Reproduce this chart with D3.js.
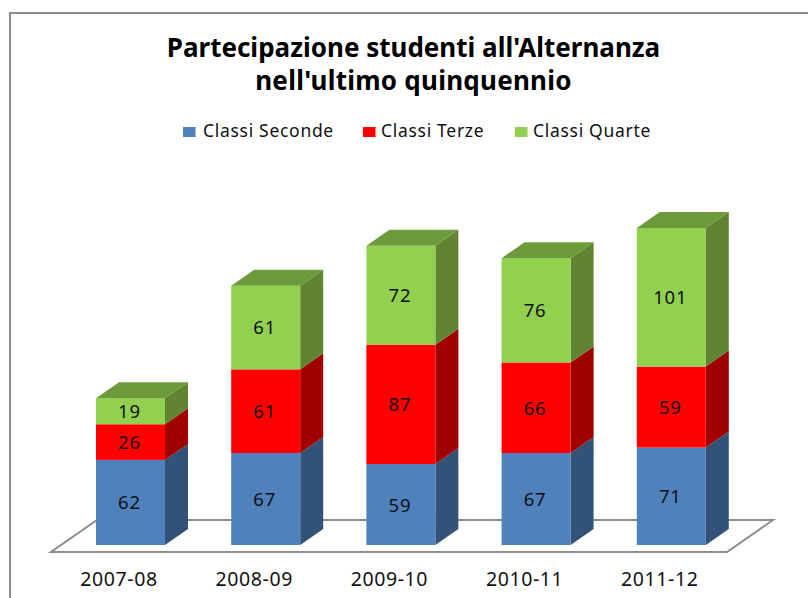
<!DOCTYPE html>
<html lang="it"><head><meta charset="utf-8">
<style>html,body{margin:0;padding:0;background:#fff}svg{display:block}text{font-family:"Noto Sans",sans-serif;fill:#111}</style>
<script src="https://cdnjs.cloudflare.com/ajax/libs/d3/7.8.5/d3.min.js"></script>
</head><body><script>
const categories=["2007-08","2008-09","2009-10","2010-11","2011-12"];
const seriesNames=["Classi Seconde","Classi Terze","Classi Quarte"];
const seconde=[62,67,59,67,71];
const terze=[26,61,87,66,59];
const quarte=[19,61,72,76,101];
const titleLines=["Partecipazione studenti all'Alternanza","nell'ultimo quinquennio"];

const W=808,H=598,dx=23,dy=-16;
const front=["#4f81bd","#ff0000","#92d050"],side=["#325278","#a00000","#608432"],topC=["#3a6090","#bb0000","#6d9a3b"];
const svg=d3.select("body").append("svg").attr("width",W).attr("height",H);
const x=d3.scaleBand().domain(categories).range([96,705.8]).paddingInner(0.4896).paddingOuter(0);
const y=d3.scaleLinear().domain([0,231]).range([545,228]);
const stack=d3.stack().keys([0,1,2]).value((d,k)=>d[k]);
const rows=categories.map((c,i)=>Object.assign([seconde[i],terze[i],quarte[i]],{cat:c}));
const layers=stack(rows);
const line=d3.line();

// chart frame
svg.append("path").attr("d",line([[10,598],[10,13],[808,13]])).attr("fill","none").attr("stroke","#8c8c8c").attr("stroke-width",2);

// title
svg.append("g").selectAll("text").data(titleLines).join("text")
  .attr("x",413.5).attr("y",(d,i)=>57+i*33).attr("text-anchor","middle")
  .attr("font-size",26).attr("font-weight",700).style("letter-spacing",(d,i)=>i?"0.25px":"0").style("fill","#000").text(d=>d);

// legend
const legX=[183,363,515],legT=[203,381,533];
const leg=svg.append("g").selectAll("g").data(seriesNames).join("g");
leg.append("rect").attr("x",(d,i)=>legX[i]).attr("y",127).attr("width",12.5).attr("height",10).attr("fill",(d,i)=>front[i]);
leg.append("text").attr("x",(d,i)=>legT[i]).attr("y",137).attr("font-size",17.5).style("letter-spacing","0.7px").text(d=>d);

// floor
const fy=552,by=520;
svg.append("path").attr("d",line([[51,fy],[727,fy],[773,by],[97,by]])+"Z").attr("fill","none").attr("stroke","#8c8c8c").attr("stroke-width",2);

// bars
const g=svg.append("g");
layers.forEach((layer,s)=>{
  layer.forEach(d=>{
    const x0=x(d.data.cat),x1=x0+x.bandwidth(),y0=y(d[0]),y1=y(d[1]);
    g.append("path").attr("d",line([[x1,y0],[x1+dx,y0+dy],[x1+dx,y1+dy],[x1,y1]])+"Z").attr("fill",side[s]);
    g.append("rect").attr("x",x0).attr("y",y1).attr("width",x.bandwidth()).attr("height",y0-y1).attr("fill",front[s]);
    if(s===2) g.append("path").attr("d",line([[x0,y1],[x0+dx,y1+dy],[x1+dx,y1+dy],[x1,y1]])+"Z").attr("fill",topC[s]);
    g.append("text").attr("x",x0+x.bandwidth()/2-1).attr("y",(y0+y1)/2+7).attr("text-anchor","middle")
      .attr("font-size",18.5).style("letter-spacing","0.8px").text(d[1]-d[0]);
  });
});

// category axis
const axis=d3.axisBottom(d3.scaleBand().domain(categories).range([51,727])).tickSize(0);
const ax=svg.append("g").attr("transform","translate(0,569)").call(axis);
ax.select(".domain").remove();
ax.selectAll("text").attr("font-size",null).style("font-size","19.5px").style("letter-spacing","0.6px").style("font-family",'"Noto Sans",sans-serif').style("fill","#111").attr("dy","0.71em");
ax.selectAll(".tick").attr("transform",function(d){return `translate(${categories.indexOf(d)*135.2+119},0)`});
</script></body></html>
